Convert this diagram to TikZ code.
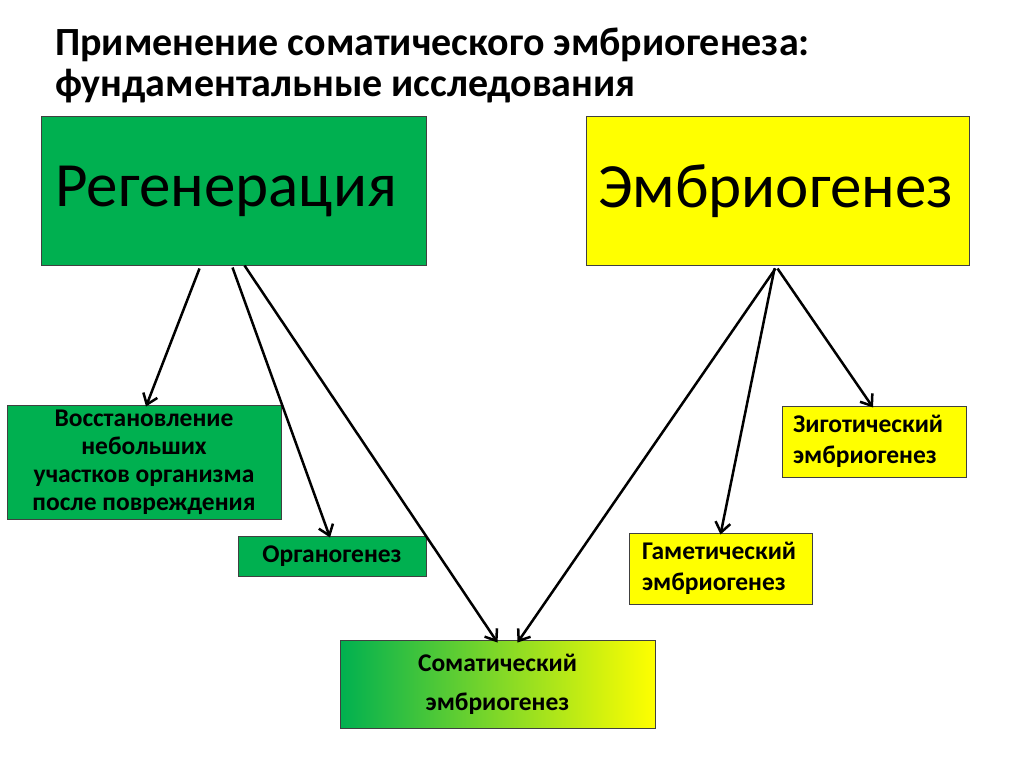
\documentclass[tikz,border=0pt]{standalone}
\usepackage{fontspec}
\setmainfont{Carlito}
\usetikzlibrary{arrows.meta,calc}
\definecolor{sgreen}{HTML}{00B050}
\definecolor{syellow}{HTML}{FFFF00}
\begin{document}
\begin{tikzpicture}[x=1pt,y=-1pt,
  box/.style={draw=black!75,line width=1pt,inner sep=0pt},
  bigtxt/.style={font=\fontsize{63}{70}\selectfont},
  smalltxt/.style={font=\fontsize{25.5}{28}\selectfont\bfseries},
  twoline/.style={font=\fontsize{25.5}{31}\selectfont\bfseries},
  conn/.style={line width=2.5pt,-{Straight Barb[length=10pt,width=15pt,line width=2.5pt]}}]
\useasboundingbox[fill=white] (0,0) rectangle (1024,767);
\node[anchor=base west,font=\fontsize{40}{41}\selectfont\bfseries,align=left,inner sep=0pt] (title) at (55,97)
  {Применение соматического эмбриогенеза:\\фундаментальные исследования};
\node[box,fill=sgreen,minimum width=385pt,minimum height=148pt,bigtxt,text width=357pt,align=left] (reg) at (233.5,191) {Регенерация};
\node[box,fill=syellow,minimum width=383pt,minimum height=148pt,bigtxt,text width=359pt,align=left] (emb) at (777.5,191) {Эмбриогенез};
\node[box,fill=sgreen,minimum width=274pt,minimum height=114pt,smalltxt,align=center] (vos) at (144,462)
  {Восстановление\\небольших\\участков организма\\после повреждения};
\node[box,fill=sgreen,minimum width=188pt,minimum height=40pt,smalltxt] (org) at (332,556) {Органогенез};
\node[box,left color=sgreen,right color=syellow,minimum width=315pt,minimum height=88pt,align=center,font=\fontsize{25.5}{39}\selectfont\bfseries] (som) at (497.5,684)
  {Соматический\\эмбриогенез};
\node[box,fill=syellow,minimum width=184pt,minimum height=71pt,text width=162pt,align=left,twoline] (zig) at (874,441.5)
  {Зиготический\\эмбриогенез};
\node[box,fill=syellow,minimum width=183pt,minimum height=71pt,text width=157pt,align=left,twoline] (gam) at (720.5,568.5)
  {Гаметический\\эмбриогенез};
\coordinate (r1) at ($(reg.south west)+(159,3)$);
\coordinate (r2) at ($(reg.south west)+(192,2)$);
\coordinate (r3) at ($(reg.south west)+(204,0)$);
\coordinate (e1) at ($(emb.south west)+(190,3)$);
\coordinate (e2) at ($(emb.south west)+(189,3)$);
\coordinate (e3) at ($(emb.south west)+(192,3)$);
\draw[conn] (r1) -- ([xshift=2pt,yshift=-2pt]vos.north);
\draw[conn] (r2) -- ([xshift=-2pt,yshift=-2pt]org.north);
\draw[conn] (r3) -- ([yshift=-3pt]som.north);
\draw[conn] (e1) -- ([xshift=20pt,yshift=-3pt]som.north);
\draw[conn] (e2) -- ([yshift=-2pt]gam.north);
\draw[conn] (e3) -- ([xshift=-1pt,yshift=-2pt]zig.north);
\end{tikzpicture}
\end{document}
